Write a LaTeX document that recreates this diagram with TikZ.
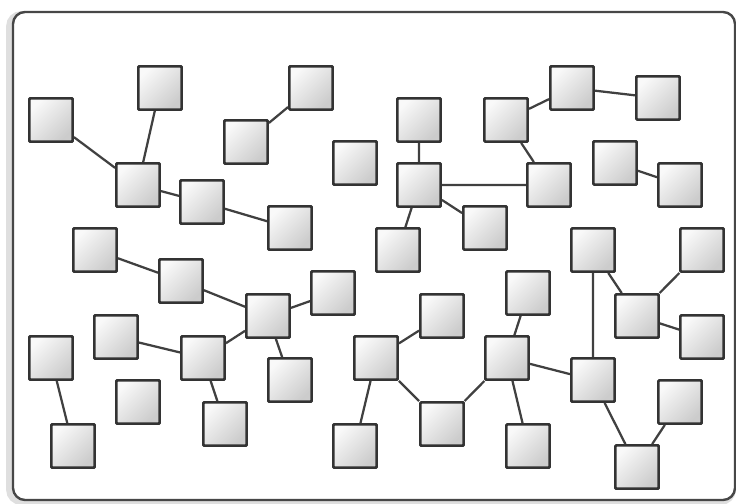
\documentclass[tikz,border=0pt]{standalone}
\usetikzlibrary{shadings}
\tikzset{
  blocco/.style={draw=black!80, line width=1.9pt, rounded corners=0.6pt,
    minimum size=1.08cm, inner sep=0pt,
    top color=gray!5, bottom color=gray!40, shading angle=45},
  legame/.style={draw=black!75, line width=1.6pt}
}
\begin{document}
\begin{tikzpicture}[x=0.025cm,y=-0.025cm]
    \useasboundingbox (0,0) rectangle (736,504);
    % --- cornice ---
    \draw[gray!25, line width=4pt, rounded corners=0.3cm] (9,14) rectangle (733,502);
    \draw[black!72, line width=1.7pt, rounded corners=0.3cm, fill=white] (13,12) rectangle (735,500);
    % --- blocchi: gruppo in alto a sinistra ---
    \node[blocco] (a) at (51,120) {};
    \node[blocco] (b) at (160,88) {};
    \node[blocco] (c) at (311,88) {};
    \node[blocco] (d) at (246,142) {};
    \node[blocco] (e) at (138,185) {};
    \node[blocco] (f) at (202,202) {};
    \node[blocco] (g) at (290,228) {};
    \node[blocco] (h) at (355,163) {};
    % --- gruppo in alto a destra ---
    \node[blocco] (i) at (419,120) {};
    \node[blocco] (j) at (419,185) {};
    \node[blocco] (k) at (506,120) {};
    \node[blocco] (l) at (572,88) {};
    \node[blocco] (m) at (658,98) {};
    \node[blocco] (n) at (549,185) {};
    \node[blocco] (o) at (615,163) {};
    \node[blocco] (p) at (680,185) {};
    \node[blocco] (q) at (485,228) {};
    \node[blocco] (r) at (398,250) {};
    \node[blocco] (s) at (593,250) {};
    \node[blocco] (t) at (702,250) {};
    % --- gruppo in basso a sinistra ---
    \node[blocco] (u) at (95,250) {};
    \node[blocco] (v) at (181,281) {};
    \node[blocco] (w) at (268,316) {};
    \node[blocco] (x) at (333,293) {};
    \node[blocco] (y) at (116,337) {};
    \node[blocco] (z) at (203,358) {};
    \node[blocco] (aa) at (51,358) {};
    \node[blocco] (ab) at (138,402) {};
    \node[blocco] (ac) at (225,424) {};
    \node[blocco] (ad) at (290,380) {};
    \node[blocco] (ae) at (73,446) {};
    % --- gruppo in basso a destra ---
    \node[blocco] (af) at (376,358) {};
    \node[blocco] (ag) at (442,316) {};
    \node[blocco] (ah) at (528,293) {};
    \node[blocco] (ai) at (507,358) {};
    \node[blocco] (aj) at (442,424) {};
    \node[blocco] (ak) at (528,446) {};
    \node[blocco] (al) at (593,380) {};
    \node[blocco] (am) at (637,316) {};
    \node[blocco] (an) at (702,337) {};
    \node[blocco] (ao) at (680,402) {};
    \node[blocco] (ap) at (637,467) {};
    \node[blocco] (aq) at (355,446) {};
    % --- legami ---
    \draw[legame] (a) -- (e)  (b) -- (e)  (e) -- (f)  (f) -- (g)  (c) -- (d);
    \draw[legame] (i) -- (j)  (j) -- (n)  (j) -- (q)  (j) -- (r)
                  (k) -- (l)  (k) -- (n)  (l) -- (m)  (o) -- (p);
    \draw[legame] (u) -- (v)  (v) -- (w)  (w) -- (x)  (w) -- (z)  (w) -- (ad)
                  (y) -- (z)  (z) -- (ac)  (aa) -- (ae);
    \draw[legame] (af) -- (ag)  (af) -- (aj)  (af) -- (aq)  (aj) -- (ai)
                  (ai) -- (ah)  (ai) -- (ak)  (ai) -- (al)  (s) -- (al)
                  (s) -- (am)  (t) -- (am)  (am) -- (an)  (al) -- (ap)  (ao) -- (ap);
\end{tikzpicture}
\end{document}
